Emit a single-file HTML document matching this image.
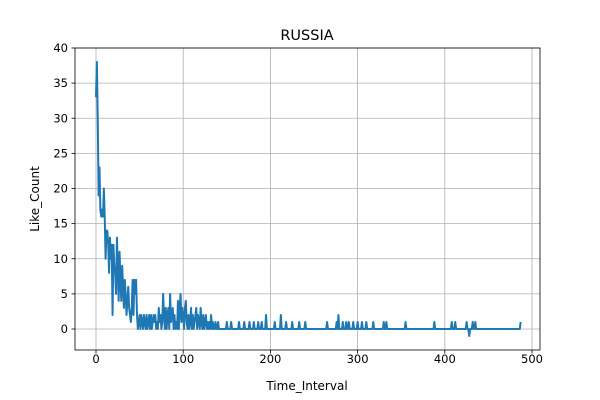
<!DOCTYPE html>
<html><head><meta charset="utf-8"><style>
body{margin:0;background:#fff}
svg{display:block;font-family:"DejaVu Sans","Liberation Sans",sans-serif}
</style></head><body>
<svg id="chart" width="600" height="400">
<rect width="600" height="400" fill="#fff"/>
<g id="grid"></g>
<path id="line" fill="none" stroke="#1f77b4" stroke-width="2" stroke-linejoin="round"/>
<rect x="75" y="48" width="465" height="302" fill="none" stroke="#000" stroke-width="0.8"/>
<g id="ticks"></g>
<text x="307" y="40" text-anchor="middle" font-size="14.5">RUSSIA</text>
<text x="307" y="390" text-anchor="middle" font-size="12">Time_Interval</text>
<text transform="translate(39,199) rotate(-90)" text-anchor="middle" font-size="12">Like_Count</text>
</svg>
<script>
const headValues=[33,38,30,19,23,17,16,17,16,20,16,10,14,14,12,8,13,10,12,2,
12,9,8,5,13,9,4,11,7,4,9,6,3,7,5,2,4,6,3,2,
1,3,7,2,7,5,7,2,0,1,2,0,2,1,0,2,1,0,2,0,
1,2,0,2,0,1,2,1,2,0,1,0,3,1,2,0,1,5,2,0,
3,0,2,3,0,5,1,2,3,0,2,0,1,0,4,0,3,5,1,3,
2,0,3,4,1,0,2,0,1,3,0,2,0,1,2,3,0,2,1,0,
3,1,0,2,0,1,2,0,1,0,1,0,2,0,1,0,0,1,0,0,
1,0,0,0,0,0,0,0,0,0,1,0,0,0,0,1,0,0,0,0];
const spikeX=[164,170,176,181,186,190,195,205,212,218,225,233,240,265,276,278,283,287,290,295,300,305,310,318,330,333,355,388,408,412,425,428,432,435,487];
const spikeY=[1,1,1,1,1,1,2,1,2,1,1,1,1,1,1,2,1,1,1,1,1,1,1,1,1,1,1,1,1,1,1,-1,1,1,1];
const lastX=487;
const xTicks=[0,100,200,300,400,500];
const yTicks=[0,5,10,15,20,25,30,35,40];

const sx=v=>96+v*0.872;
const sy=v=>329-v*7.025;
const NS="http://www.w3.org/2000/svg";
const values=[];
for(let i=0;i<=lastX;i++)values.push(i<headValues.length?headValues[i]:0);
spikeX.forEach((x,i)=>{values[x]=spikeY[i];});
let d="";
values.forEach((v,i)=>{d+=(i?"L":"M")+sx(i).toFixed(2)+","+sy(v).toFixed(2);});
document.getElementById("line").setAttribute("d",d);

const grid=document.getElementById("grid"),ticks=document.getElementById("ticks");
function mk(tag,attrs,parent){const e=document.createElementNS(NS,tag);for(const k in attrs)e.setAttribute(k,attrs[k]);parent.appendChild(e);return e;}
xTicks.forEach(t=>{
 const x=sx(t);
 const g=mk("line",{x1:x,x2:x,y1:48,y2:350,stroke:"#b0b0b0","stroke-width":0.8},grid);
 
 
 mk("line",{x1:x,x2:x,y1:350,y2:353.5,stroke:"#000","stroke-width":0.8},ticks);
 const tx=mk("text",{x:x,y:363,"text-anchor":"middle","font-size":"11.5"},ticks);
 tx.textContent=t;
 
 
});
yTicks.forEach(t=>{
 const y=sy(t);
 const g=mk("line",{x1:75,x2:540,y1:y,y2:y,stroke:"#b0b0b0","stroke-width":0.8},grid);
 
 
 mk("line",{x1:71.5,x2:75,y1:y,y2:y,stroke:"#000","stroke-width":0.8},ticks);
 const tx=mk("text",{x:68,y:y+4,"text-anchor":"end","font-size":"11.5"},ticks);
 tx.textContent=t;
 
 
});
</script>
</body></html>
